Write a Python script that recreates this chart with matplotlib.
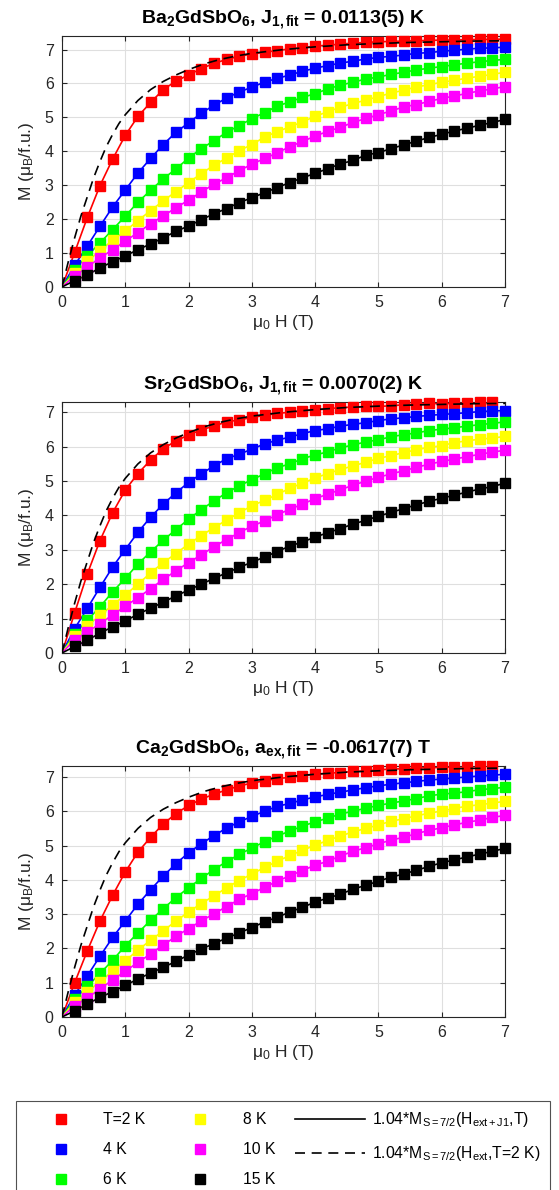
import matplotlib.pyplot as plt
from matplotlib.lines import Line2D

plt.rcParams['font.family'] = ['Liberation Sans', 'DejaVu Sans']
plt.rcParams['mathtext.fontset'] = 'custom'
plt.rcParams['mathtext.rm'] = 'Liberation Sans'
plt.rcParams['mathtext.it'] = 'Liberation Sans:italic'
plt.rcParams['mathtext.bf'] = 'Liberation Sans:bold'

# field values of the measured points (T)
field = [0.2, 0.4, 0.6, 0.8, 1.0, 1.2, 1.4, 1.6, 1.8, 2.0, 2.2, 2.4, 2.6, 2.8,
         3.0, 3.2, 3.4, 3.6, 3.8, 4.0, 4.2, 4.4, 4.6, 4.8, 5.0, 5.2, 5.4, 5.6,
         5.8, 6.0, 6.2, 6.4, 6.6, 6.8, 7.0]

temps = ["T=2 K", "4 K", "6 K", "8 K", "10 K", "15 K"]
colors = ["#ff0000", "#0000ff", "#00ff00", "#ffff00", "#ff00ff", "#000000"]

# Ba2GdSbO6
ba_2k = [1.02, 2.05, 2.99, 3.77, 4.47, 5.03, 5.44, 5.82, 6.07, 6.25, 6.44, 6.59,
         6.71, 6.80, 6.87, 6.92, 6.97, 7.02, 7.06, 7.10, 7.13, 7.16, 7.19, 7.21,
         7.23, 7.24, 7.25, 7.26, 7.27, 7.28, 7.28, 7.29, 7.30, 7.30, 7.31]
ba_4k = [0.64, 1.21, 1.79, 2.36, 2.86, 3.36, 3.79, 4.20, 4.56, 4.84, 5.12, 5.36,
         5.57, 5.75, 5.89, 6.04, 6.15, 6.25, 6.36, 6.45, 6.53, 6.60, 6.66, 6.72,
         6.77, 6.80, 6.84, 6.89, 6.91, 6.95, 6.98, 7.01, 7.04, 7.05, 7.07]
ba_6k = [0.51, 0.92, 1.30, 1.69, 2.09, 2.50, 2.85, 3.19, 3.48, 3.80, 4.08, 4.31,
         4.56, 4.76, 4.96, 5.14, 5.33, 5.46, 5.59, 5.70, 5.84, 5.95, 6.04, 6.13,
         6.19, 6.27, 6.33, 6.40, 6.45, 6.50, 6.55, 6.60, 6.64, 6.68, 6.71]
ba_8k = [0.40, 0.76, 1.07, 1.38, 1.65, 1.96, 2.25, 2.54, 2.81, 3.08, 3.34, 3.59,
         3.80, 4.02, 4.20, 4.42, 4.58, 4.72, 4.87, 5.03, 5.17, 5.30, 5.41, 5.51,
         5.61, 5.72, 5.80, 5.90, 5.96, 6.04, 6.09, 6.16, 6.21, 6.27, 6.33]
ba_10k = [0.33, 0.59, 0.86, 1.10, 1.36, 1.60, 1.87, 2.09, 2.34, 2.56, 2.80, 3.03,
          3.22, 3.43, 3.62, 3.79, 3.95, 4.14, 4.29, 4.45, 4.59, 4.71, 4.85, 4.97,
          5.08, 5.19, 5.31, 5.38, 5.47, 5.56, 5.63, 5.71, 5.78, 5.84, 5.91]
ba_15k = [0.19, 0.35, 0.57, 0.74, 0.92, 1.10, 1.27, 1.45, 1.64, 1.80, 1.98, 2.16,
          2.31, 2.49, 2.63, 2.78, 2.93, 3.08, 3.22, 3.35, 3.49, 3.63, 3.73, 3.89,
          3.96, 4.08, 4.19, 4.30, 4.41, 4.50, 4.60, 4.68, 4.77, 4.85, 4.94]

# Sr2GdSbO6
sr_2k = [1.17, 2.30, 3.27, 4.08, 4.74, 5.22, 5.61, 5.94, 6.17, 6.34, 6.49, 6.60,
         6.72, 6.78, 6.85, 6.91, 6.97, 7.00, 7.04, 7.07, 7.10, 7.14, 7.15, 7.17,
         7.17, 7.19, 7.22, 7.23, 7.26, 7.25, 7.26, 7.26, 7.29, 7.29, 7.33]
sr_4k = [0.71, 1.30, 1.91, 2.50, 3.01, 3.51, 3.95, 4.33, 4.66, 4.96, 5.21, 5.44,
         5.65, 5.78, 5.93, 6.08, 6.19, 6.28, 6.38, 6.47, 6.52, 6.60, 6.65, 6.70,
         6.76, 6.81, 6.84, 6.88, 6.91, 6.94, 6.96, 6.99, 7.02, 7.04, 7.05]
sr_6k = [0.56, 0.95, 1.34, 1.78, 2.17, 2.59, 2.94, 3.28, 3.59, 3.89, 4.17, 4.42,
         4.66, 4.86, 5.04, 5.21, 5.39, 5.50, 5.65, 5.76, 5.85, 5.97, 6.05, 6.14,
         6.20, 6.29, 6.35, 6.40, 6.47, 6.51, 6.55, 6.60, 6.64, 6.68, 6.72]
sr_8k = [0.49, 0.79, 1.10, 1.39, 1.69, 2.00, 2.33, 2.63, 2.89, 3.17, 3.41, 3.65,
         3.86, 4.08, 4.28, 4.44, 4.61, 4.79, 4.94, 5.09, 5.22, 5.34, 5.44, 5.55,
         5.66, 5.74, 5.83, 5.91, 5.98, 6.03, 6.12, 6.17, 6.22, 6.25, 6.30]
sr_10k = [0.39, 0.61, 0.85, 1.11, 1.36, 1.61, 1.87, 2.14, 2.39, 2.63, 2.85, 3.09,
          3.30, 3.50, 3.69, 3.84, 4.02, 4.18, 4.33, 4.49, 4.62, 4.75, 4.88, 5.00,
          5.11, 5.21, 5.30, 5.40, 5.49, 5.57, 5.64, 5.71, 5.78, 5.84, 5.90]
sr_15k = [0.19, 0.37, 0.58, 0.76, 0.93, 1.13, 1.30, 1.48, 1.66, 1.83, 2.00, 2.17,
          2.33, 2.49, 2.64, 2.79, 2.95, 3.11, 3.23, 3.37, 3.50, 3.62, 3.75, 3.86,
          3.98, 4.09, 4.20, 4.31, 4.41, 4.50, 4.59, 4.68, 4.77, 4.84, 4.94]

# Ca2GdSbO6
ca_2k = [1.00, 1.93, 2.80, 3.55, 4.23, 4.81, 5.24, 5.63, 5.93, 6.17, 6.35, 6.50,
         6.62, 6.74, 6.82, 6.89, 6.95, 6.99, 7.03, 7.08, 7.11, 7.13, 7.16, 7.18,
         7.21, 7.23, 7.24, 7.26, 7.27, 7.28, 7.29, 7.30, 7.31, 7.32, 7.33]
ca_4k = [0.64, 1.20, 1.77, 2.32, 2.80, 3.29, 3.71, 4.11, 4.47, 4.79, 5.05, 5.29,
         5.51, 5.69, 5.85, 6.00, 6.14, 6.23, 6.33, 6.42, 6.49, 6.56, 6.62, 6.69,
         6.74, 6.79, 6.83, 6.87, 6.91, 6.94, 6.97, 7.00, 7.03, 7.05, 7.08]
ca_6k = [0.52, 0.89, 1.27, 1.65, 2.08, 2.45, 2.82, 3.16, 3.48, 3.77, 4.04, 4.30,
         4.53, 4.74, 4.93, 5.11, 5.28, 5.42, 5.57, 5.69, 5.80, 5.92, 6.00, 6.09,
         6.17, 6.24, 6.30, 6.37, 6.45, 6.50, 6.53, 6.57, 6.63, 6.66, 6.70]
ca_8k = [0.43, 0.74, 1.03, 1.34, 1.64, 1.95, 2.24, 2.51, 2.80, 3.06, 3.31, 3.53,
         3.77, 3.98, 4.17, 4.36, 4.54, 4.71, 4.86, 5.01, 5.15, 5.28, 5.40, 5.50,
         5.60, 5.71, 5.78, 5.87, 5.94, 6.01, 6.08, 6.15, 6.19, 6.24, 6.29]
ca_10k = [0.33, 0.56, 0.82, 1.08, 1.34, 1.59, 1.84, 2.10, 2.35, 2.58, 2.80, 3.01,
          3.22, 3.43, 3.60, 3.78, 3.96, 4.12, 4.27, 4.43, 4.54, 4.70, 4.83, 4.94,
          5.05, 5.16, 5.24, 5.35, 5.44, 5.52, 5.60, 5.68, 5.74, 5.82, 5.88]
ca_15k = [0.18, 0.38, 0.57, 0.74, 0.92, 1.11, 1.28, 1.45, 1.62, 1.81, 1.98, 2.14,
          2.30, 2.45, 2.61, 2.77, 2.91, 3.06, 3.20, 3.35, 3.47, 3.58, 3.73, 3.84,
          3.96, 4.08, 4.17, 4.28, 4.39, 4.50, 4.58, 4.67, 4.75, 4.83, 4.92]

# free-ion curve at 2 K (dashed)
free_h = [0, 0.1, 0.2, 0.3, 0.4, 0.5, 0.6, 0.7, 0.8, 0.9, 1.0, 1.2, 1.4, 1.6,
          1.8, 2.0, 2.25, 2.5, 2.75, 3.0, 3.5, 4.0, 4.5, 5.0, 5.5, 6.0, 6.5, 7.0]
free_m = [0, 0.75, 1.45, 2.10, 2.66, 3.22, 3.70, 4.14, 4.50, 4.82, 5.08, 5.50,
          5.82, 6.06, 6.25, 6.41, 6.58, 6.71, 6.81, 6.89, 7.00, 7.08, 7.14, 7.18,
          7.21, 7.23, 7.25, 7.26]

titles = [r"Ba$\mathregular{_2}$GdSbO$\mathregular{_6}$, J$\mathregular{_{1,fit}}$ = 0.0113(5) K",
          r"Sr$\mathregular{_2}$GdSbO$\mathregular{_6}$, J$\mathregular{_{1,fit}}$ = 0.0070(2) K",
          r"Ca$\mathregular{_2}$GdSbO$\mathregular{_6}$, a$\mathregular{_{ex,fit}}$ = -0.0617(7) T"]
ytops = [7.4, 7.3, 7.32]
panel_data = [[ba_2k, ba_4k, ba_6k, ba_8k, ba_10k, ba_15k],
              [sr_2k, sr_4k, sr_6k, sr_8k, sr_10k, sr_15k],
              [ca_2k, ca_4k, ca_6k, ca_8k, ca_10k, ca_15k]]

fig = plt.figure(figsize=(5.59, 11.9), dpi=100)
W, H = 559, 1190
axc = "#262626"
bottoms = [287, 653, 1017]
dash = (6, 4)

for title, ytop, series, bot in zip(titles, ytops, panel_data, bottoms):
    ax = fig.add_axes([62 / W, 1 - bot / H, 443 / W, 251 / H])
    for m, c in zip(series, colors):
        ax.plot([0] + field, [0] + m, "-", color=c, lw=1.2, zorder=2)
        # markers above the axis top are not shown, like the original
        keep = [(h, v) for h, v in zip(field, m) if v <= ytop]
        ax.plot([k[0] for k in keep], [k[1] for k in keep], "s", color=c,
                ms=7.4, mec=c, zorder=3, clip_on=False)
    ax.plot(free_h, free_m, "--", color="k", lw=1.2, dashes=dash, zorder=4)
    ax.set_xlim(0, 7)
    ax.set_ylim(0, ytop)
    ax.set_xticks(range(8))
    ax.set_yticks(range(8))
    ax.grid(True, color="#dfdfdf", lw=0.8)
    ax.set_axisbelow(True)
    ax.tick_params(direction="in", length=3.5, top=True, right=True,
                   labelsize=11.5, colors=axc, pad=6)
    for s in ax.spines.values():
        s.set_color(axc)
        s.set_linewidth(0.8)
    ax.set_title(title, fontsize=14, fontweight="bold", pad=9)
    ax.set_xlabel(r"μ$\mathregular{_0}$ H (T)", fontsize=12.5, color=axc, labelpad=2)
    ax.set_ylabel(r"M (μ$\mathregular{_B}$/f.u.)", fontsize=12.5, color=axc, labelpad=6)

handles = [Line2D([], [], ls="none", marker="s", ms=7.4, color=c) for c in colors]
handles += [Line2D([], [], ls="-", color="k", lw=1.2),
            Line2D([], [], ls="--", color="k", lw=1.2, dashes=dash)]
labels = temps + [r"1.04*M$\mathregular{_{S=7/2}}$(H$\mathregular{_{ext+J1}}$,T)",
                  r"1.04*M$\mathregular{_{S=7/2}}$(H$\mathregular{_{ext}}$,T=2 K)"]
leg = fig.legend(handles, labels, loc="upper left", bbox_to_anchor=(16 / W, 1 - 1101 / H),
                 ncol=3, fontsize=11.3, handlelength=4.5, handletextpad=0.45,
                 columnspacing=1.25, labelspacing=0.95, borderpad=0.6,
                 borderaxespad=0, frameon=True, fancybox=False)
leg.get_frame().set_edgecolor(axc)
leg.get_frame().set_linewidth(0.8)

fig.savefig("out.png", dpi=100)
